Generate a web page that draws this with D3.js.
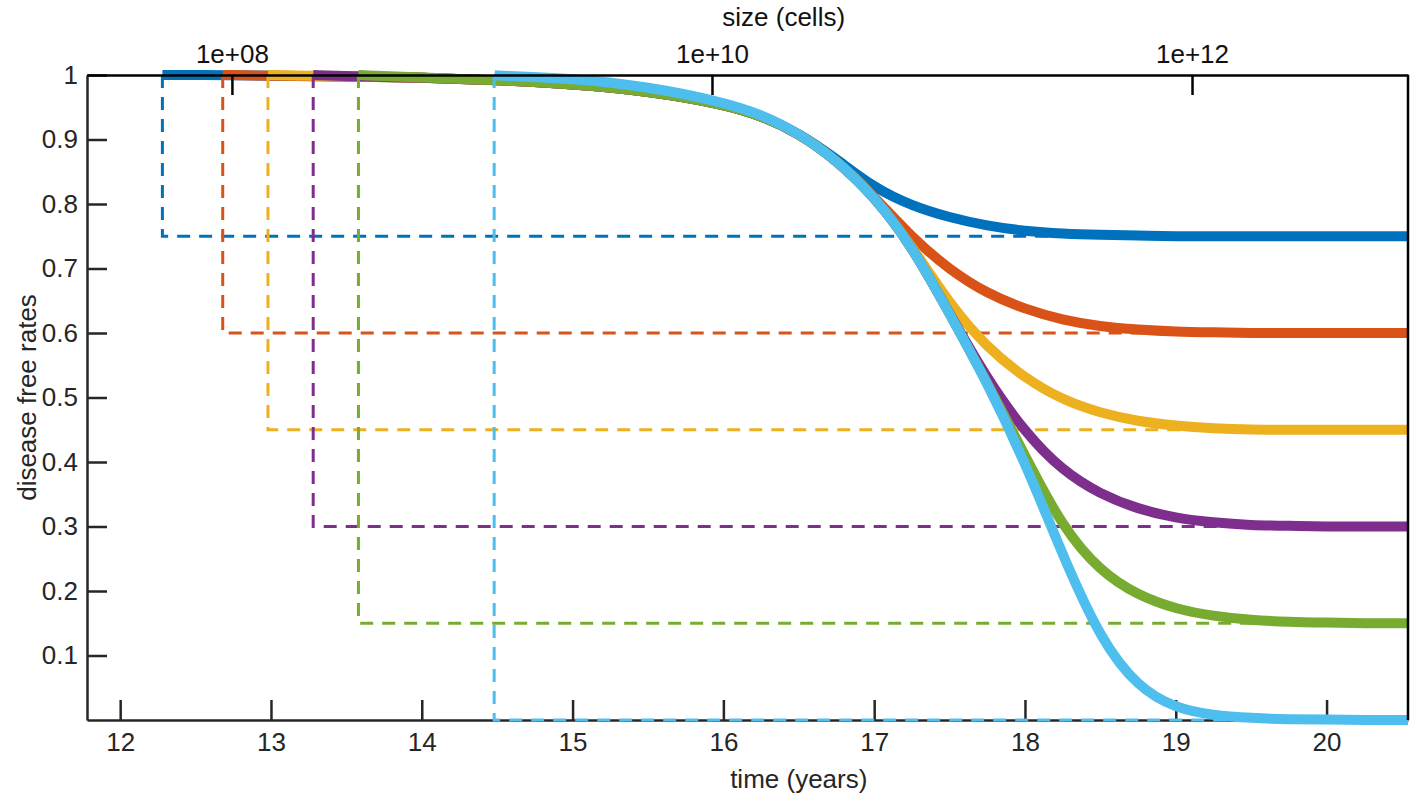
<!DOCTYPE html>
<html>
<head>
<meta charset="utf-8">
<script src="https://cdn.jsdelivr.net/npm/d3@7"></script>
<style>
	body { margin: 0; background: #fff; }
	svg { display: block; font-family: "Liberation Sans", Arial, sans-serif; }
</style>
</head>
<body>
<svg id="chart" width="1414" height="797"></svg>
<script>
// time grid (years) shared by all curves
const years = [12.5, 13, 13.5, 14, 14.5, 15, 15.5, 16, 16.25, 16.5, 16.75, 17, 17.25,
	17.5, 17.75, 18, 18.25, 18.5, 18.75, 19, 19.25, 19.5, 19.75, 20, 20.25, 20.55]

// time each curve starts (at rate 1) and the level it settles to
const startYears = [12.28, 12.68, 12.98, 13.28, 13.58, 14.48]
const plateaus = [0.75, 0.6, 0.45, 0.3, 0.15, 0]
const colors = ['#0072BD', '#D95319', '#EDB120', '#7E2F8E', '#77AC30', '#4DBEEE']

// disease free rates (null = before the curve starts)
const blueRates = [1, 0.999, 0.998, 0.996, 0.992, 0.986, 0.975, 0.955, 0.937, 0.91, 0.87, 0.825, 0.797,
	0.779, 0.766, 0.758, 0.754, 0.752, 0.751, 0.75, 0.75, 0.75, 0.75, 0.75, 0.75, 0.75]
const orangeRates = [null, 0.999, 0.998, 0.996, 0.992, 0.986, 0.975, 0.955, 0.937, 0.91, 0.868, 0.812, 0.748,
	0.698, 0.661, 0.637, 0.62, 0.61, 0.605, 0.602, 0.601, 0.6, 0.6, 0.6, 0.6, 0.6]
const yellowRates = [null, null, 0.998, 0.996, 0.992, 0.986, 0.975, 0.955, 0.937, 0.91, 0.868, 0.812, 0.735,
	0.645, 0.577, 0.53, 0.496, 0.476, 0.463, 0.456, 0.452, 0.45, 0.45, 0.45, 0.45, 0.45]
const purpleRates = [null, null, 0.998, 0.996, 0.992, 0.986, 0.975, 0.955, 0.937, 0.91, 0.868, 0.812, 0.735,
	0.63, 0.528, 0.446, 0.386, 0.35, 0.327, 0.313, 0.306, 0.302, 0.301, 0.3, 0.3, 0.3]
const greenRates = [null, null, null, 0.996, 0.992, 0.986, 0.975, 0.955, 0.937, 0.91, 0.868, 0.812, 0.735,
	0.63, 0.523, 0.41, 0.298, 0.23, 0.193, 0.172, 0.161, 0.155, 0.152, 0.151, 0.15, 0.15]
const cyanRates = [null, null, null, null, 0.999, 0.995, 0.982, 0.958, 0.939, 0.91, 0.868, 0.812, 0.735,
	0.63, 0.523, 0.4, 0.255, 0.125, 0.05, 0.018, 0.007, 0.003, 0.001, 0.001, 0, 0]
const allRates = [blueRates, orangeRates, yellowRates, purpleRates, greenRates, cyanRates]

// axes
const timeDomain = [11.78, 20.54]
const timeTicks = [12, 13, 14, 15, 16, 17, 18, 19, 20]
const rateTicks = [0.1, 0.2, 0.3, 0.4, 0.5, 0.6, 0.7, 0.8, 0.9, 1]
const sizeDomain = [2.49e7, 7.94e12]
const sizeTicks = [1e8, 1e10, 1e12]

const margin = { top: 75, right: 6, bottom: 77, left: 87 }
const W = 1414, H = 797
const width = W - margin.left - margin.right,
	height = H - margin.top - margin.bottom
const axisColor = '#262626'
const fontSize = '26px'
const fontFamily = '"Liberation Sans", Arial, sans-serif'

const svg = d3.select('#chart')
const g = svg.append('g')
	.attr('transform', `translate(${margin.left},${margin.top})`)

const x = d3.scaleLinear().domain(timeDomain).range([0, width])
const y = d3.scaleLinear().domain([0, 1]).range([height, 0])
const xSize = d3.scaleLog().domain(sizeDomain).range([0, width])

g.append('clipPath').attr('id', 'plotclip')
	.append('rect')
	.attr('x', 0).attr('y', -margin.top)
	.attr('width', width).attr('height', H)

// left and bottom axes sit under the data
const yAxis = g.append('g')
	.call(d3.axisLeft(y).tickValues(rateTicks).tickFormat(d3.format('~g'))
		.tickSizeInner(-20).tickSizeOuter(0).tickPadding(9))
const xAxis = g.append('g')
	.attr('transform', `translate(0,${height})`)
	.call(d3.axisBottom(x).tickValues(timeTicks).tickFormat(d3.format('d'))
		.tickSizeInner(-20).tickSizeOuter(0).tickPadding(13))

for (const ax of [xAxis, yAxis]) {
	ax.select('.domain').attr('stroke', axisColor).attr('stroke-width', 2.5)
	ax.selectAll('.tick line').attr('stroke', axisColor).attr('stroke-width', 2.5)
	ax.selectAll('.tick text').attr('fill', axisColor)
		.style('font-size', fontSize).style('font-family', fontFamily)
}

const line = d3.line()
	.defined(d => d[1] != null)
	.x(d => x(d[0]))
	.y(d => y(d[1]))
	.curve(d3.curveBasis)

const data = g.append('g').attr('clip-path', 'url(#plotclip)')

// each curve: solid line, then its dashed step guide
allRates.forEach((rates, i) => {
	const pts = [[startYears[i], 1]]
	years.forEach((t, j) => {
		if (rates[j] != null && t > startYears[i]) pts.push([t, rates[j]])
	})
	data.append('path')
		.attr('d', line(pts))
		.attr('fill', 'none')
		.attr('stroke', colors[i])
		.attr('stroke-width', 10)

	const guide = [[startYears[i], 1], [startYears[i], plateaus[i]], [timeDomain[1], plateaus[i]]]
	data.append('path')
		.attr('d', d3.line().x(d => x(d[0])).y(d => y(d[1]))(guide))
		.attr('fill', 'none')
		.attr('stroke', colors[i])
		.attr('stroke-width', 3)
		.attr('stroke-dasharray', '13,9')
})

// top (size) axis and box lines on top
const topAxis = g.append('g')
	.call(d3.axisTop(xSize).tickValues(sizeTicks)
		.tickFormat(d => '1e+' + String(Math.round(Math.log10(d))).padStart(2, '0'))
		.tickSizeInner(-20).tickSizeOuter(0).tickPadding(12))
topAxis.select('.domain').attr('stroke', '#000').attr('stroke-width', 2.5)
topAxis.selectAll('.tick line').attr('stroke', '#000').attr('stroke-width', 2.5)
topAxis.selectAll('.tick text').attr('fill', '#111')
	.style('font-size', fontSize).style('font-family', fontFamily)

g.append('line')
	.attr('x1', width).attr('x2', width)
	.attr('y1', 0).attr('y2', height)
	.attr('stroke', '#000').attr('stroke-width', 2.5)

// axis titles
g.append('text')
	.attr('x', x(16.5)).attr('y', height + 68)
	.attr('text-anchor', 'middle')
	.attr('fill', axisColor).style('font-size', fontSize)
	.text('time (years)')
g.append('text')
	.attr('x', x(16.4)).attr('y', -49)
	.attr('text-anchor', 'middle')
	.attr('fill', '#111').style('font-size', fontSize)
	.text('size (cells)')
g.append('text')
	.attr('transform', `translate(${-51},${y(0.5)}) rotate(-90)`)
	.attr('text-anchor', 'middle')
	.attr('fill', axisColor).style('font-size', fontSize)
	.text('disease free rates')
</script>
</body>
</html>
